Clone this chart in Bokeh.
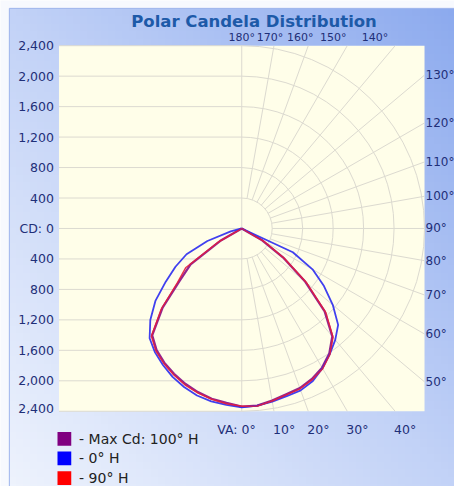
import numpy as np
from bokeh.plotting import figure
from bokeh.models import Range1d
from bokeh.embed import file_html
from bokeh.resources import INLINE
from bokeh.core.properties import value

# ---------------- data ----------------
# vertical angles (deg from nadir)
angles = [0, 5, 10, 15, 20, 25, 30, 35, 40, 45, 50, 55, 60, 65, 70, 75, 80, 85, 90]

# Max Cd plane: 100° H (right half) / 280° H (left half)
maxcd_right = [2340, 2335, 2295, 2255, 2230, 2180, 2110, 2005, 1850, 1540, 1090, 660, 310, 0, 0, 0, 0, 0, 0]
maxcd_left = [2340, 2300, 2270, 2225, 2170, 2105, 2035, 1950, 1830, 1470, 1060, 820, 330, 0, 0, 0, 0, 0, 0]
# 0° H (right half) / 180° H (left half)
h0_right = [2350, 2335, 2310, 2280, 2262, 2210, 2120, 2015, 1910, 1790, 1560, 1318, 1073, 740, 0, 0, 0, 0, 0]
h0_left = [2350, 2325, 2305, 2270, 2215, 2150, 2070, 1986, 1882, 1698, 1480, 1218, 1005, 800, 480, 150, 0, 0, 0]
# 90° H (right half) / 270° H (left half)
h90_right = [2335, 2340, 2300, 2262, 2240, 2190, 2126, 2019, 1865, 1562, 1115, 680, 330, 0, 0, 0, 0, 0, 0]
h90_left = [2335, 2310, 2277, 2235, 2185, 2118, 2046, 1964, 1846, 1495, 1100, 900, 350, 0, 0, 0, 0, 0, 0]

series_names = ["- Max Cd: 100° H", "- 0° H", "- 90° H"]
series_colors = ["#800080", "#0000ff", "#ff0000"]

cd_ticks = [2400, 2000, 1600, 1200, 800, 400, 0, -400, -800, -1200, -1600, -2000, -2400]
cd_labels = ["2,400", "2,000", "1,600", "1,200", "800", "400", "CD: 0",
             "400", "800", "1,200", "1,600", "2,000", "2,400"]
grid_radii = [400, 800, 1200, 1600, 2000, 2400]
ray_angles = [10, 20, 30, 40, 50, 60, 70, 80, 90, 100, 110, 120, 130, 140, 150, 160, 170]
right_va = [50, 60, 70, 80, 90, 100, 110, 120, 130]
top_va = [140, 150, 160, 170, 180]
bottom_va = [0, 10, 20, 30, 40]
title_text = "Polar Candela Distribution"

# ---------------- layout (designed on a 462x494 sheet, scaled by K) ----------------
W, H = 454, 486
K = W / 462.0
CXR, CYR = 245.5, 232.0     # centre of polar plot on the sheet
HALFR = 186.0               # sheet pixels for 2400 cd
RMAX = 2400
s = HALFR * K / RMAX        # canvas px per cd
CX, CY = CXR * K, CYR * K


def P(xr, yr):
    """sheet pixel -> data coordinates"""
    return (xr * K - CX) / s, (CY - yr * K) / s


p = figure(width=W, height=H,
           x_range=Range1d(-CX / s, (W - CX) / s),
           y_range=Range1d(-(H - CY) / s, CY / s),
           toolbar_location=None, output_backend="svg",
           min_border=0, x_axis_location=None, y_axis_location=None,
           title=None)
p.grid.visible = False
p.outline_line_color = None
p.border_fill_color = "#f7f9fe"
p.background_fill_color = "#f7f9fe"

# gradient panel (top-right blue -> bottom-left almost white)
N = 64
u = np.linspace(0, 1, N)
vtop = np.linspace(1, 0, N)  # row 0 is bottom
U, V = np.meshgrid(u, vtop)
t = ((1 - U) + V) / 2
c0 = np.array([0x8c, 0xaa, 0xee], float)
c1 = np.array([0xc2, 0xd2, 0xf7], float)
c2 = np.array([0xee, 0xf3, 0xfd], float)
tt = t[..., None]
col = np.where(tt < 0.5, c0 + (c1 - c0) * (tt / 0.5), c1 + (c2 - c1) * ((tt - 0.5) / 0.5))
img = np.empty((N, N), dtype=np.uint32)
view = img.view(dtype=np.uint8).reshape((N, N, 4))
view[..., 0] = col[..., 0].astype(np.uint8)
view[..., 1] = col[..., 1].astype(np.uint8)
view[..., 2] = col[..., 2].astype(np.uint8)
view[..., 3] = 255
gx0, gy1 = P(9, 8)
gx1, gy0 = P(470, 500)
p.image_rgba(image=[img], x=gx0, y=gy0, dw=gx1 - gx0, dh=gy1 - gy0)
# panel border (left and top edges)
p.line([gx0, gx0, gx1], [gy0, gy1, gy1], line_color="#9db4ec", line_width=1)

# plot area
p.quad(left=-RMAX, right=RMAX, bottom=-RMAX, top=RMAX, fill_color="#fffee9", line_color=None)

GRID = "#dcdad0"
p.segment(x0=[-RMAX] * len(cd_ticks), x1=[0] * len(cd_ticks), y0=cd_ticks, y1=cd_ticks,
          line_color=GRID, line_width=1)
p.segment(x0=[0], x1=[0], y0=[-RMAX], y1=[RMAX], line_color=GRID, line_width=1)
p.arc(x=0, y=0, radius=grid_radii, start_angle=-np.pi / 2, end_angle=np.pi / 2,
      line_color=GRID, line_width=1)
ra = np.radians(ray_angles)
dx, dy = np.sin(ra), -np.cos(ra)
tend = RMAX / np.maximum(np.abs(dx), np.abs(dy))
r0 = grid_radii[0]
p.segment(x0=r0 * dx, y0=r0 * dy, x1=tend * dx, y1=tend * dy, line_color=GRID, line_width=1)


def curve(left, right):
    a = np.radians(angles)
    l = np.array(left, float)
    r = np.array(right, float)
    xs = np.concatenate([(-l * np.sin(a))[::-1], (r * np.sin(a))[1:]])
    ys = np.concatenate([(-l * np.cos(a))[::-1], (-r * np.cos(a))[1:]])
    return xs, ys


for (left, right), colr, w, alpha in [((maxcd_left, maxcd_right), "#800080", 2.3, 0.85),
                                      ((h0_left, h0_right), "#2b2bef", 1.8, 0.9),
                                      ((h90_left, h90_right), "#e61c3c", 1.4, 0.9)]:
    xs, ys = curve(left, right)
    p.line(xs, ys, line_color=colr, line_width=w, line_alpha=alpha, line_join="round")

FONT = value("DejaVu Sans")
LAB = "#1f2f78"
FS = "12.5px"

# left candela labels
yoff = [0] * (len(cd_ticks) - 1) + [-3]
p.text(x=[-RMAX] * len(cd_ticks), y=cd_ticks, text=cd_labels, x_offset=-5, y_offset=yoff,
       text_align="right", text_baseline="middle", text_font=FONT, text_font_size=FS,
       text_color=LAB)

# right labels
rv = np.radians(right_va)
p.text(x=[RMAX] * len(right_va), y=-RMAX * np.cos(rv) / np.sin(rv),
       text=[f"{a}°" for a in right_va], x_offset=1, text_align="left", text_baseline="middle",
       text_font=FONT, text_font_size="12px", text_color=LAB)

# top labels
tv = np.radians(top_va)
p.text(x=RMAX * np.sin(tv) / (-np.cos(tv)), y=[RMAX] * len(top_va),
       text=[f"{a}°" for a in top_va], x_offset=[-20, -14, -8, -4, 0], y_offset=-2,
       text_align="center", text_baseline="bottom",
       text_font=FONT, text_font_size="11px", text_color=LAB)

# bottom labels
bv = np.radians(bottom_va)
p.text(x=RMAX * np.tan(bv), y=[-RMAX] * len(bottom_va),
       text=["VA: 0°"] + [f"{a}°" for a in bottom_va[1:]],
       x_offset=[14, -1, -1, -1, -1], y_offset=11,
       text_align=["right", "left", "left", "left", "left"], text_baseline="top",
       text_font=FONT, text_font_size=FS, text_color=LAB)

# title
tx, ty = P(258, 21)
p.text(x=[tx], y=[ty], text=[title_text], text_align="center", text_baseline="alphabetic",
       text_font=FONT, text_font_size="16.5px", text_font_style="bold", text_color="#1d5aa8")

# legend
lx, _ = P(65, 0)
tx2, _ = P(80, 0)
rows = [446, 466, 486]
ly = [P(0, r)[1] for r in rows]
sq = 14 * K / s
p.rect(x=[lx] * 3, y=ly, width=sq, height=sq, fill_color=series_colors, line_color=None)
p.text(x=[tx2] * 3, y=ly, text=series_names, text_align="left", text_baseline="middle",
       text_font=FONT, text_font_size="14px", text_color="#222222")

open("out.html", "w").write(file_html(p, INLINE))
